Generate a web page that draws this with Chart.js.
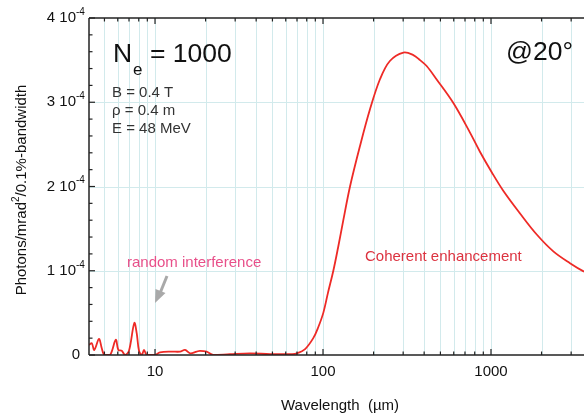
<!DOCTYPE html>
<html>
<head>
<meta charset="utf-8">
<script src="https://cdn.jsdelivr.net/npm/chart.js@4.4.1/dist/chart.umd.min.js"></script>
<style>
  html, body { margin: 0; padding: 0; background: #fff; }
</style>
</head>
<body>
<canvas id="spectrum" width="584" height="414"></canvas>
<script>
// wavelength in micrometres
const wavelength = [
  4.05, 4.2, 4.35, 4.64, 4.82, 4.99, 5.4, 5.84, 6.05, 6.34, 6.63, 7.0,
  7.53, 7.78, 8.03, 8.34, 8.6, 8.93, 10, 10.7, 12.5, 14.1, 15.1, 16.2,
  17.7, 18.5, 20.3, 22.2, 27.9, 36.7, 48.4, 59.4, 65, 70, 78.2, 87.5,
  93.3, 100.4, 107.1, 115.2, 122.8, 132.1, 144.8, 166, 190, 218, 250, 301,
  345, 378, 414, 475, 597, 750, 861, 1010, 1183, 1489, 1872, 2350, 2953,
  3580, 4000
];
// photons / mrad^2 / 0.1% bandwidth, in units of 1e-4
const photons = [
  0.12, 0.14, 0.06, 0.19, 0.08, 0.0, 0.0, 0.18, 0.06, 0.05, 0.0, 0.05,
  0.38, 0.26, 0.05, 0.0, 0.06, 0.0, 0.0, 0.03, 0.04, 0.04, 0.06, 0.02,
  0.04, 0.05, 0.04, 0.0, 0.01, 0.02, 0.01, 0.01, 0.01, 0.02, 0.07, 0.2,
  0.32, 0.5, 0.74, 1.0, 1.27, 1.6, 2.0, 2.48, 2.91, 3.27, 3.49, 3.59,
  3.56, 3.5, 3.43, 3.27, 2.99, 2.64, 2.41, 2.17, 1.95, 1.68, 1.43, 1.23, 1.09,
  0.99, 0.95
];
const yLabels = [0, 1, 2, 3, 4];
const xLabels = [10, 100, 1000];
const decades = [1, 10, 100, 1000];

const gridColor = '#d2eaec';
const axisColor = '#222';
const font = "'Liberation Sans', Arial, Helvetica, sans-serif";

function line(ctx, x1, y1, x2, y2) {
  ctx.beginPath();
  ctx.moveTo(x1, y1);
  ctx.lineTo(x2, y2);
  ctx.stroke();
}

const framePlugin = {
  id: 'frame',
  beforeDatasetsDraw(chart) {
    const { ctx, chartArea: a, scales: { x, y } } = chart;
    ctx.save();
    ctx.strokeStyle = gridColor;
    ctx.lineWidth = 1;
    // vertical grid at every log step
    decades.forEach(d => {
      for (let k = 1; k <= 9; k++) {
        const v = k * d;
        if (v < x.min || v > x.max) continue;
        const px = Math.round(x.getPixelForValue(v)) + 0.5;
        line(ctx, px, a.top, px, a.bottom);
      }
    });
    // horizontal grid at the labelled values
    yLabels.forEach(v => {
      if (v <= y.min || v >= y.max) return;
      const py = Math.round(y.getPixelForValue(v)) + 0.5;
      line(ctx, a.left, py, a.right, py);
    });
    ctx.restore();
  },
  afterDatasetsDraw(chart) {
    const { ctx, chartArea: a, scales: { x, y } } = chart;
    ctx.save();
    ctx.strokeStyle = axisColor;
    ctx.lineWidth = 1.5;
    // frame
    line(ctx, a.left, a.top, a.right, a.top);
    line(ctx, a.left, a.top, a.left, a.bottom);
    line(ctx, a.left, a.bottom, a.right, a.bottom);

    // x ticks (inward, bottom and top)
    ctx.lineWidth = 1.2;
    decades.forEach(d => {
      for (let k = 1; k <= 9; k++) {
        const v = k * d;
        if (v < x.min || v > x.max) continue;
        const px = x.getPixelForValue(v);
        const len = k === 1 ? 6 : 3.5;
        line(ctx, px, a.bottom, px, a.bottom - len);
        line(ctx, px, a.top, px, a.top + len);
      }
    });
    // y ticks every 0.2
    for (let i = 0; i <= 20; i++) {
      const v = i / 5;
      const py = y.getPixelForValue(v);
      const len = i % 5 === 0 ? 6 : 3.5;
      line(ctx, a.left, py, a.left + len, py);
    }

    // tick labels
    ctx.fillStyle = '#111';
    ctx.textBaseline = 'middle';
    yLabels.forEach(v => {
      const py = y.getPixelForValue(v);
      if (v === 0) {
        ctx.font = '15px ' + font;
        ctx.textAlign = 'right';
        ctx.fillText('0', a.left - 9, py);
        return;
      }
      ctx.font = '15px ' + font;
      ctx.textAlign = 'right';
      ctx.fillText(v + ' 10', a.left - 13, py);
      ctx.font = '10px ' + font;
      ctx.textAlign = 'left';
      ctx.fillText('-4', a.left - 13, py - 6);
    });
    ctx.font = '15px ' + font;
    ctx.textAlign = 'center';
    xLabels.forEach(v => {
      ctx.fillText(String(v), x.getPixelForValue(v), a.bottom + 17);
    });

    // axis titles
    ctx.textBaseline = 'alphabetic';
    ctx.fillText('Wavelength  (\u00b5m)', 340, 410);

    ctx.save();
    ctx.translate(25.5, 190);
    ctx.rotate(-Math.PI / 2);
    ctx.textAlign = 'left';
    const p1 = 'Photons/mrad', p2 = '2', p3 = '/0.1%-bandwidth';
    ctx.font = '15px ' + font;
    const w1 = ctx.measureText(p1).width, w3 = ctx.measureText(p3).width;
    ctx.font = '10px ' + font;
    const w2 = ctx.measureText(p2).width;
    let sx = -(w1 + w2 + w3) / 2;
    ctx.font = '15px ' + font;
    ctx.fillText(p1, sx, 0);
    ctx.font = '10px ' + font;
    ctx.fillText(p2, sx + w1, -7);
    ctx.font = '15px ' + font;
    ctx.fillText(p3, sx + w1 + w2, 0);
    ctx.restore();

    // annotations
    ctx.textAlign = 'left';
    ctx.fillStyle = '#111';
    ctx.font = '26.5px ' + font;
    ctx.fillText('N', 113, 62);
    ctx.fillText('= 1000', 150, 62);
    ctx.fillText('@20\u00b0', 506, 60);
    ctx.font = '17px ' + font;
    ctx.fillText('e', 133, 75);
    ctx.fillStyle = '#333';
    ctx.font = '15px ' + font;
    ctx.fillText('B = 0.4 T', 112, 97);
    ctx.fillText('\u03c1 = 0.4 m', 112, 115);
    ctx.fillText('E = 48 MeV', 112, 133);

    ctx.fillStyle = '#e8508a';
    ctx.fillText('random interference', 127, 267);
    ctx.fillStyle = '#dc3340';
    ctx.fillText('Coherent enhancement', 365, 261);

    // grey arrow
    ctx.strokeStyle = '#a9a9a9';
    ctx.fillStyle = '#a9a9a9';
    ctx.lineWidth = 3;
    line(ctx, 167, 276, 160.5, 292);
    ctx.beginPath();
    ctx.moveTo(155, 303);
    ctx.lineTo(155.5, 289);
    ctx.lineTo(165.5, 293);
    ctx.closePath();
    ctx.fill();

    ctx.restore();
  }
};

const ctx = document.getElementById('spectrum');
new Chart(ctx, {
  type: 'scatter',
  data: {
    datasets: [{
      data: wavelength.map((w, i) => ({ x: w, y: photons[i] })),
      showLine: true,
      borderColor: '#ee2a26',
      borderWidth: 1.8,
      pointRadius: 0,
      tension: 0.35
    }]
  },
  options: {
    responsive: false,
    animation: false,
    devicePixelRatio: 1,
    layout: { padding: { left: 89, top: 18, right: 0, bottom: 59 } },
    plugins: { legend: { display: false }, tooltip: { enabled: false } },
    scales: {
      x: { type: 'logarithmic', min: 4.046, max: 3578, display: false },
      y: { min: 0, max: 4, display: false }
    }
  },
  plugins: [framePlugin]
});
</script>
</body>
</html>
